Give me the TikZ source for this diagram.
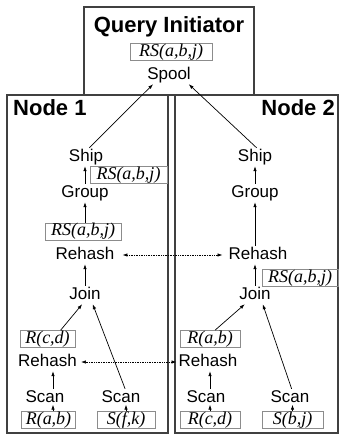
\documentclass[tikz,border=0pt]{standalone}
\usepackage{fontspec}
\setmainfont{Liberation Sans}
\newfontfamily\lblfont{Liberation Serif}
\usetikzlibrary{arrows.meta}

\begin{document}
\begin{tikzpicture}[x=1pt,y=-1pt,
  op/.style={inner sep=1pt, text height=12.5pt, text depth=3.5pt,
             font=\fontsize{17}{20}\selectfont},
  lbl/.style={draw=black!45, line width=0.8pt, inner sep=0pt, minimum height=17pt,
              text height=12.5pt, text depth=4pt,
              font=\lblfont\itshape\fontsize{18}{20}\selectfont},
  heading/.style={font=\bfseries\fontsize{22}{24}\selectfont, inner sep=0pt},
  frame/.style={draw=black!75, line width=1.2pt},
  flow/.style={-{Latex[length=5pt,width=3.5pt]}, line width=0.7pt},
  feed/.style={flow, shorten >=-2.5pt},
  xchg/.style={{Latex[length=5pt,width=3.5pt]}-{Latex[length=5pt,width=3.5pt]},
               densely dotted, line width=0.7pt}]

\useasboundingbox (0,0) rectangle (339,437);

% site frames
\draw[frame] (84,7) rectangle (254,95);
\draw[frame] (7,95) rectangle (168,433);
\draw[frame] (175,95) rectangle (338,433);

\node[heading, anchor=base] (qiT) at (169,32) {Query Initiator};
\node[heading, anchor=base west] (n1T) at (13,115) {Node 1};
\node[heading, anchor=base east] (n2T) at (335,115) {Node 2};

% query initiator
\node[lbl, minimum width=82pt] (rsQ) at (171,52) {RS(a,b,j)};
\node[op] (spool) at (169,75) {Spool};

% node 1 plan
\node[op] (ship1) at (86,157) {Ship};
\node[lbl, minimum width=77pt] (rs1a) at (128.5,175) {RS(a,b,j)};
\node[op] (grp1) at (85,193) {Group};
\node[lbl, minimum width=76pt] (rs1b) at (83,231.5) {RS(a,b,j)};
\node[op] (rh1a) at (85,255) {Rehash};
\node[op] (join1) at (85,295) {Join};
\node[lbl, minimum width=55pt] (rcd1) at (47.5,339) {R(c,d)};
\node[op] (rh1b) at (47.5,362) {Rehash};
\node[op] (scan1a) at (45,398) {Scan};
\node[op] (scan1b) at (121,398) {Scan};
\node[lbl, minimum width=54pt] (rab1) at (48.5,420) {R(a,b)};
\node[lbl, minimum width=58pt] (sfk1) at (126,420) {S(f,k)};

% node 2 plan
\node[op] (ship2) at (255,157) {Ship};
\node[op] (grp2) at (255,193) {Group};
\node[op] (rh2a) at (258,255) {Rehash};
\node[lbl, minimum width=76pt] (rs2) at (300,278) {RS(a,b,j)};
\node[op] (join2) at (255,295) {Join};
\node[lbl, minimum width=60pt] (rab2) at (210,339) {R(a,b)};
\node[op] (rh2b) at (208,362) {Rehash};
\node[op] (scan2a) at (206,398) {Scan};
\node[op] (scan2b) at (290,398) {Scan};
\node[lbl, minimum width=60pt] (rcd2) at (210,420) {R(c,d)};
\node[lbl, minimum width=61pt] (sbj2) at (292.5,420) {S(b,j)};

% data flow to the initiator
\draw[flow] (ship1.70) -- (spool.-150);
\draw[flow] (ship2.80) -- (spool.-25);

% node 1 flow
\draw[flow] (grp1.north) -- (grp1.north |- ship1.south);
\draw[flow] (rs1b.north -| grp1.south) -- (grp1.south);
\draw[flow] (join1.north) -- (rh1a.south);
\draw[flow] (rcd1.34) -- (join1.-107);
\draw[flow] (scan1b.66) -- (join1.-50);
\draw[flow] ([xshift=8pt]scan1a.north) -- ([xshift=5.5pt]rh1b.south);
\draw[feed] ([xshift=4.5pt]rab1.north) -- ([xshift=8pt]scan1a.south);
\draw[feed] (sfk1.north) -- (sfk1.north |- scan1b.south);

% node 2 flow
\draw[flow] (grp2.north) -- (ship2.south);
\draw[flow] (grp2.south |- rh2a.north) -- (grp2.south);
\draw[flow] (join2.north) -- (join2.north |- rh2a.south);
\draw[flow] (rab2.60) -- (join2.-138);
\draw[flow] (scan2b.80) -- (join2.-50);
\draw[flow] ([xshift=4pt]scan2a.north) -- ([xshift=2pt]rh2b.south);
\draw[feed] (rcd2.north) -- ([xshift=4pt]scan2a.south);
\draw[feed] (sbj2.north) -- (sbj2.north |- scan2b.south);

% repartitioning between the nodes
\draw[xchg, shorten <=7pt, shorten >=5pt] (rh1a.east) -- (rh2a.west);
\draw[xchg, shorten <=3pt, shorten >=1pt] (rh1b.east) -- (rh2b.west);
\end{tikzpicture}
\end{document}
